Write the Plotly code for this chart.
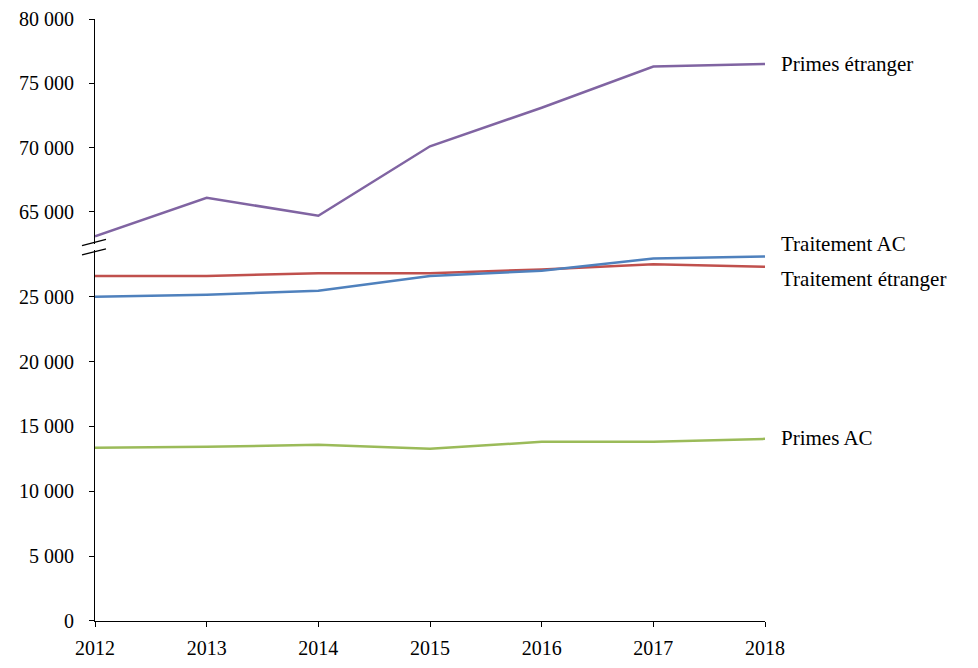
import plotly.graph_objects as go

years = [2012, 2013, 2014, 2015, 2016, 2017, 2018]

primes_etranger = [63100, 66100, 64700, 70100, 73100, 76300, 76500]
traitement_ac = [25000, 25150, 25450, 26600, 27000, 27950, 28100]
traitement_etranger = [26600, 26600, 26800, 26800, 27100, 27500, 27300]
primes_ac = [13350, 13430, 13580, 13270, 13810, 13810, 14040]

low_ticks = [0, 5000, 10000, 15000, 20000, 25000]
low_text = ['0', '5 000', '10 000', '15 000', '20 000', '25 000']
high_ticks = [65000, 70000, 75000, 80000]
high_text = ['65 000', '70 000', '75 000', '80 000']

FONT = 'Liberation Serif'

fig = go.Figure()

fig.add_trace(go.Scatter(x=years, y=primes_etranger, mode='lines', name='Primes étranger',
                         line=dict(color='#8064A2', width=2.5), xaxis='x', yaxis='y2'))
fig.add_trace(go.Scatter(x=years, y=traitement_etranger, mode='lines', name='Traitement étranger',
                         line=dict(color='#C0504D', width=2.5)))
fig.add_trace(go.Scatter(x=years, y=traitement_ac, mode='lines', name='Traitement AC',
                         line=dict(color='#4F81BD', width=2.5)))
fig.add_trace(go.Scatter(x=years, y=primes_ac, mode='lines', name='Primes AC',
                         line=dict(color='#9BBB59', width=2.5)))

axis_common = dict(showgrid=False, zeroline=False, showline=True, linecolor='black',
                   linewidth=1, ticks='outside', ticklen=5, tickcolor='black',
                   ticklabeloverflow='allow', automargin=False,
                   tickfont=dict(family=FONT, size=20, color='black'))

fig.update_layout(
    width=978,
    height=668,
    paper_bgcolor='white',
    plot_bgcolor='white',
    showlegend=False,
    margin=dict(l=87, r=221, t=11, b=55),
    font=dict(family=FONT, size=20, color='black'),
    xaxis=dict(range=[2012, 2018], tickvals=years, ticklabelstandoff=4, anchor='y', **axis_common),
    yaxis=dict(domain=[0, 0.6163], range=[0, 28600], tickvals=low_ticks, ticktext=low_text,
               anchor='x', ticklabelstandoff=11, **axis_common),
    yaxis2=dict(domain=[0.6262, 1], range=[62500, 80000], tickvals=high_ticks, ticktext=high_text,
                anchor='x', ticklabelstandoff=11, **axis_common),
)

# break marks on the y axis
for y0, y1 in [(0.6234, 0.634), (0.608, 0.618)]:
    fig.add_shape(type='line', xref='paper', yref='paper', x0=-0.0194, x1=0.0164, y0=y0, y1=y1,
                  line=dict(color='black', width=1.3))

labels = [
    ('Primes étranger', primes_etranger[-1], 'y2', 0),
    ('Traitement AC', traitement_ac[-1], 'y', 12),
    ('Traitement étranger', traitement_etranger[-1], 'y', -12),
    ('Primes AC', primes_ac[-1], 'y', 1),
]
for text, yv, yref, ys in labels:
    fig.add_annotation(x=2018, y=yv, xref='x', yref=yref, text=text, showarrow=False,
                       xanchor='left', yanchor='middle', xshift=14, yshift=ys,
                       font=dict(family=FONT, size=21, color='black'))

fig.write_html("out.html")
